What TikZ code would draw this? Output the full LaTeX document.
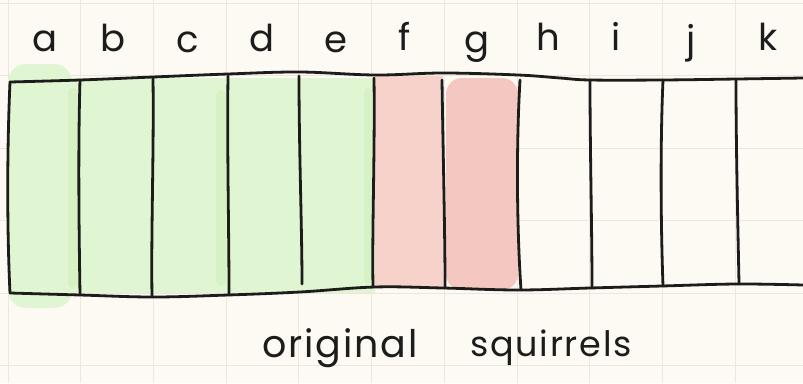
\documentclass[tikz,border=0pt]{standalone}
\usepackage{fontspec}
\setmainfont{Poppins}
\newfontfamily\capfont[LetterSpace=5]{Poppins}
\begin{document}
\begin{tikzpicture}[x=1pt,y=-1pt,
  grid/.style={draw=gridc,line width=0.8pt},
  ink/.style={draw=inkc,line width=2.8pt,line cap=round,line join=round},
  letter/.style={font=\fontsize{37}{40}\selectfont,text=inkc,anchor=base,inner sep=0pt},
  caption/.style={font=\capfont\fontsize{38}{40}\selectfont,text=inkc,anchor=base west,inner sep=0pt}]
\definecolor{paper}{HTML}{FDF9F3}
\definecolor{gridc}{HTML}{ECE6DC}
\definecolor{inkc}{HTML}{1C1C1A}
\definecolor{greenfill}{HTML}{E0F5D2}
\definecolor{greendeep}{HTML}{D6F2C4}
\definecolor{pinkfill}{HTML}{F6D2CA}
\definecolor{pinkdeep}{HTML}{F4C8C0}
\useasboundingbox (0,0) rectangle (803,383);
\fill[paper] (0,0) rectangle (803,383);
% grid
\foreach \gx in {8,80.7,153.4,226.1,298.8,371.5,444.2,516.9,589.6,662.3,735,807.7}
  \draw[grid] (\gx,0) -- (\gx,383);
\foreach \gy in {3,75,148,220,293,365}
  \draw[grid] (0,\gy) -- (803,\gy);
% highlights
\fill[greenfill,rounded corners=18pt] (8,64) rectangle (72,308);
\fill[greenfill] (12,78) rectangle (375,293);
\fill[greendeep,rounded corners=5pt] (68,88) rectangle (78,288);
\fill[greendeep,rounded corners=5pt] (216,90) rectangle (226,286);
\fill[greendeep,rounded corners=5pt] (364,88) rectangle (372,284);
\fill[pinkfill] (375,76) rectangle (443,288);
\fill[pinkdeep,rounded corners=16pt] (446,78) rectangle (518,290);
% box outline
\draw[ink] plot[smooth,tension=0.6] coordinates {(10,82) (80,80) (153,77) (228,74) (300,72) (375,75) (443,73) (518,75) (560,78) (590,80) (662,80) (737,79) (803,78)};
\draw[ink] plot[smooth,tension=0.6] coordinates {(10,293) (80,295) (153,297) (228,295) (300,292) (375,287) (443,288) (518,290) (590,288) (662,286) (737,284) (803,285)};
\draw[ink] (10,82) .. controls (7,150) and (7,230) .. (10,293);
\draw[ink] (80,80) .. controls (78,150) and (79,230) .. (80,295);
\draw[ink] (153,78) .. controls (154,150) and (151,230) .. (152,297);
\draw[ink] (228,76) .. controls (227,150) and (229,230) .. (229,295);
\draw[ink] (299,76) .. controls (299,150) and (302,230) .. (302,284);
\draw[ink] (374,78) .. controls (375,150) and (372,230) .. (373,287);
\draw[ink] (442,80) .. controls (443,150) and (445,230) .. (445,288);
\draw[ink] (520,80) .. controls (516,150) and (517,230) .. (521,290);
\draw[ink] (590,80) .. controls (590,150) and (592,230) .. (592,288);
\draw[ink] (663,80) .. controls (660,150) and (661,230) .. (663,286);
\draw[ink] (736,80) .. controls (736,150) and (738,230) .. (739,284);
% letters
\node[letter] (la) at (45,51) {a};
\node[letter] (lb) at (113,51) {b};
\node[letter] (lc) at (188,52) {c};
\node[letter] (ld) at (262,51) {d};
\node[letter] (le) at (336,52) {e};
\node[letter] (lf) at (405,50) {f};
\node[letter] (lg) at (477,52) {g};
\node[letter] (lh) at (548,50) {h};
\node[letter] (li) at (616,50) {i};
\node[letter] (lj) at (691,52) {j};
\node[letter] (lk) at (768,50) {k};
% caption
\node[caption] (orig) at (262,357) {original};
\node[caption,font=\capfont\fontsize{35}{40}\selectfont] (squi) at (470,356) {squirrels};
\end{tikzpicture}
\end{document}
